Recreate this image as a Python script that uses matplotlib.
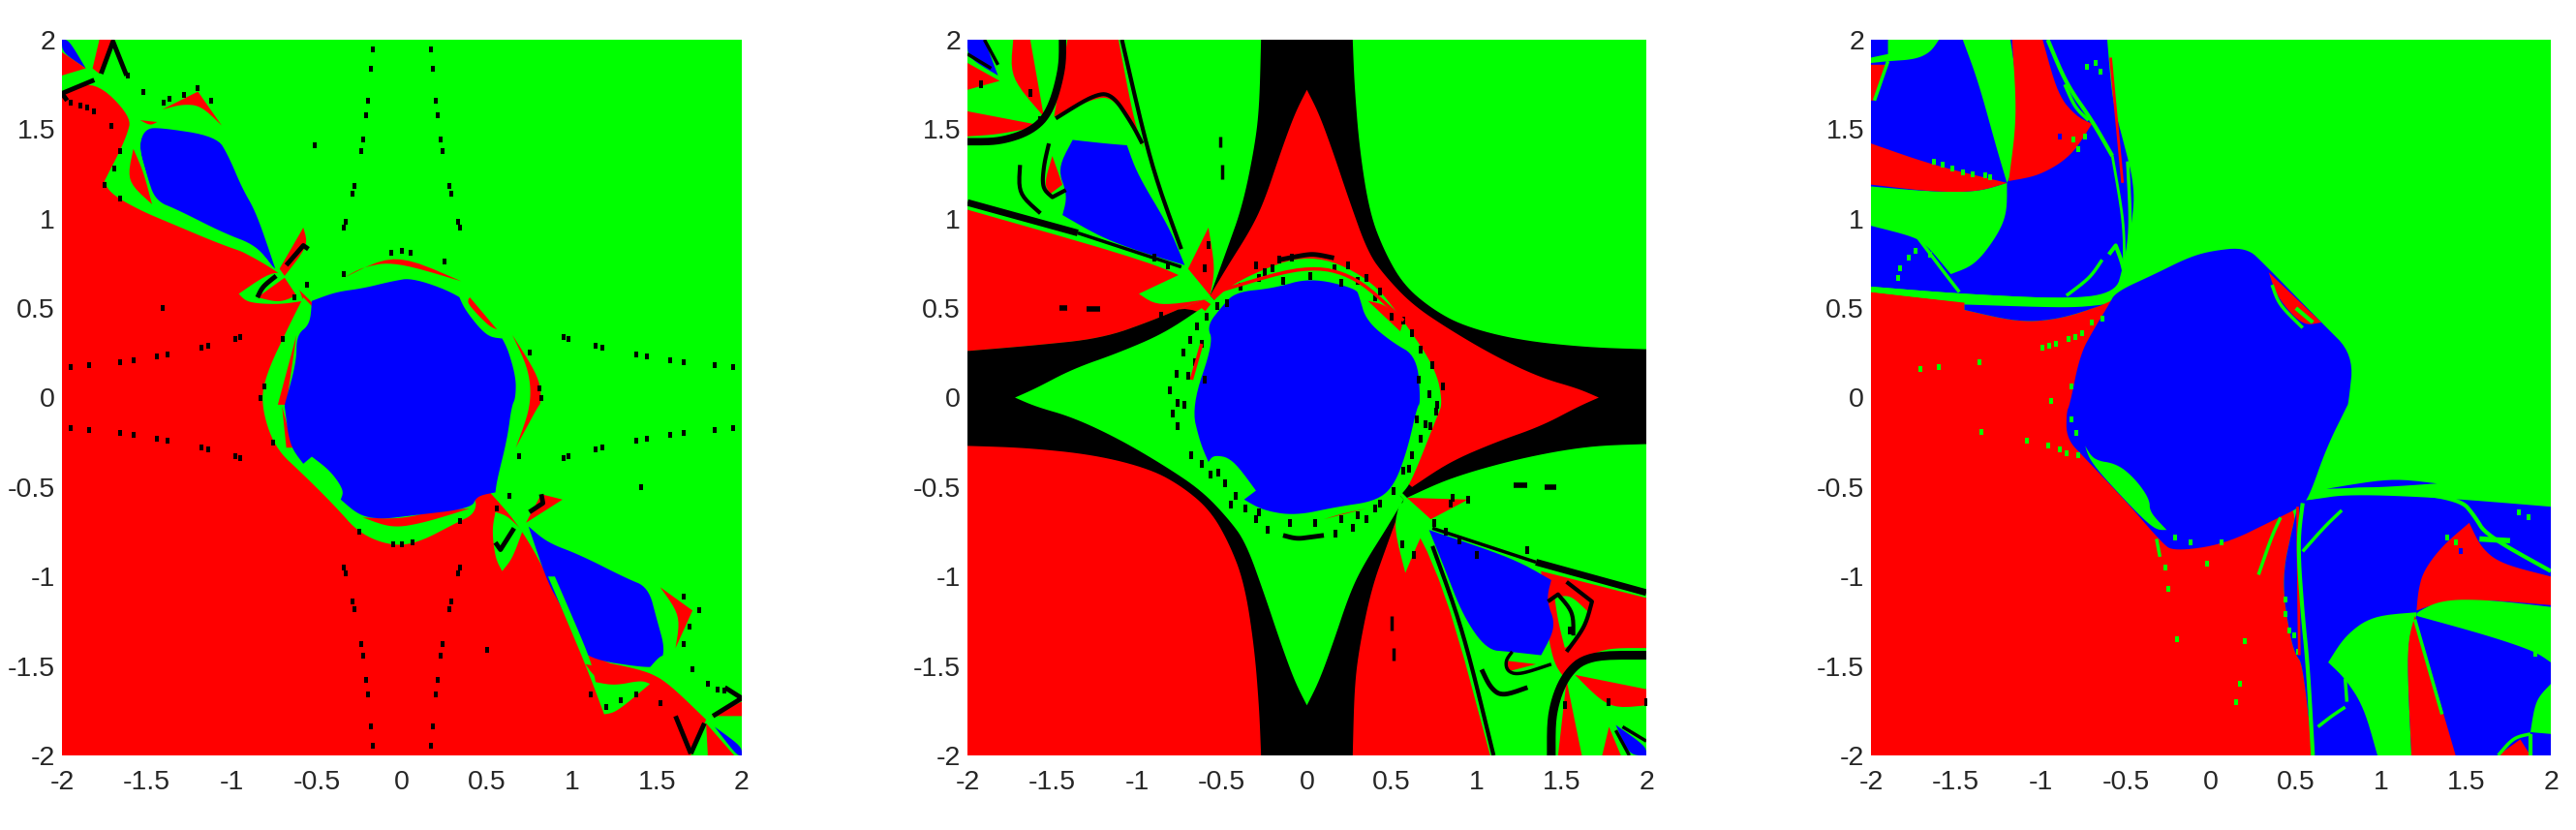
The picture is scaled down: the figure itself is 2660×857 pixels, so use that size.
import math
import matplotlib
matplotlib.use("Agg")
import matplotlib.pyplot as plt

R, G, B, K = "#ff0000", "#00ff00", "#0000ff", "#000000"
tick_values = [-2, -1.5, -1, -0.5, 0, 0.5, 1, 1.5, 2]
tick_labels = ["-2", "-1.5", "-1", "-0.5", "0", "0.5", "1", "1.5", "2"]

# ---------- panel 1: region outlines (x, y) ----------
p1_red_main = [(-2,-2),(1.70,-2),(1.79,-1.80),(1.55,-1.58),(1.41,-1.52),(1.09,-1.46),(.86,-1.0),(.71,-.745),(.56,-.57),(0,0),
               (-.55,.56),(-.75,.72),(-1.05,.87),(-1.45,1.03),(-1.66,1.10),(-1.75,1.21),(-1.69,1.32),(-1.62,1.46),(-1.59,1.57),
               (-1.81,1.775),(-2,1.70)]
p1_green_band = [(-.58,.56),(-.66,.41),(-.80,.13),(-.83,-.04),(-.75,-.28),(-.58,-.43),(-.39,-.61),(-.25,-.76),(-.06,-.83),(.10,-.81),
                 (.32,-.70),(.43,-.65),(.44,-.55),(0,0)]
p1_red_cres_low = [(-.23,-.67),(-.06,-.73),(.13,-.70),(.40,-.62),(.21,-.63),(-.01,-.68)]
p1_red_cres_up = [(-.34,.67),(-.04,.81),(.35,.65),(-.04,.76),(-.23,.73)]
p1_red_left_a = [(-.73,-.04),(-.62,.35),(-.68,-.04)]
p1_red_left_b = [(-.705,-.05),(-.64,-.28),(-.68,-.28)]
p1_red_right = [(.65,.35),(.81,.11),(.82,-.03),(.80,-.05),(.67,-.28),(.76,-.05),(.75,.15)]
p1_disc = [(.07,.67),(.37,.56),(.59,.36),(.67,.13),(.67,0),(.645,-.05),(.62,-.23),(.56,-.46),(.55,-.53),(.44,-.55),(.41,-.62),
           (.05,-.66),(-.12,-.68),(-.25,-.66),(-.36,-.57),(-.34,-.52),(-.42,-.41),(-.53,-.33),(-.58,-.37),(-.66,-.27),(-.69,-.05),
           (-.69,-.04),(-.62,.2),(-.62,.35),(-.54,.41),(-.53,.54),(-.39,.59),(-.23,.61),(-.06,.65)]
p1_ell_green = [(.33,.58),(.37,.49),(.50,.34),(.59,.33),(.58,.40),(.39,.56)]
p1_ell_red = [(.39,.55),(.39,.52),(.51,.40),(.56,.38),(.40,.56)]
p1_green_ear = [(-.745,.72),(-.96,.58),(-.91,.53),(-.72,.52),(-.58,.54),(-.62,.65)]
p1_red_ear = [(-.85,.56),(-.69,.67),(-.62,.57),(-.72,.53)]
p1_red_spike = [(-.72,.72),(-.58,.95),(-.55,.85),(-.69,.68)]
p1_blue_up = [(-.745,.72),(-.855,1.03),(-.94,1.17),(-1.02,1.35),(-1.09,1.46),(-1.43,1.51),(-1.51,1.50),(-1.55,1.41),(-1.50,1.24),
              (-1.45,1.06),(-1.32,1.01),(-1.05,.88),(-.855,.81)]
p1_green_up = [(-1.75,1.23),(-1.73,1.15),(-1.55,1.05),(-1.35,.97),(-1.05,.85),(-.855,.79),(-.75,.72),(-.855,.85),(-1.05,.92),
               (-1.32,1.05),(-1.45,1.10),(-1.50,1.24),(-1.55,1.41),(-1.51,1.50),(-1.58,1.57),(-1.59,1.46)]
p1_red_tear_up = [(-1.58,1.39),(-1.62,1.21),(-1.47,1.08),(-1.52,1.26)]
p1_red_wedge_up = [(-1.41,1.61),(-1.20,1.71),(-1.06,1.52),(-1.18,1.63),(-1.29,1.64)]
p1_red_small_up = [(-1.54,1.55),(-1.44,1.54),(-1.48,1.52)]
p1_blue_tl = [(-2,2),(-1.96,2),(-1.86,1.84),(-2,1.93)]
p1_red_tl = [(-2,1.93),(-1.86,1.84),(-2,1.80)]
p1_red_tl2 = [(-1.82,1.84),(-1.78,2),(-1.69,2),(-1.78,1.81)]
p1_green_tear = [(.55,-.64),(.53,-.74),(.55,-.90),(.59,-.97),(.65,-.90),(.71,-.745),(.62,-.66)]
p1_red_wedge_r = [(.73,-.70),(.945,-.57),(.82,-.54)]
p1_blue_low = [(.745,-.72),(.855,-1.03),(.94,-1.17),(1.02,-1.35),(1.09,-1.46),(1.43,-1.51),(1.51,-1.50),(1.55,-1.41),(1.50,-1.24),
               (1.45,-1.06),(1.32,-1.01),(1.05,-.88),(.855,-.81)]
p1_green_low = [(.86,-1.0),(1.08,-1.49),(1.19,-1.77),(1.26,-1.76),(1.46,-1.60),(1.41,-1.58),(1.25,-1.61),(1.14,-1.59),(1.11,-1.46),(.90,-1.0)]
p1_red_low_in = [(1.08,-1.49),(1.41,-1.55),(1.25,-1.59),(1.14,-1.57)]
p1_green_low2 = [(1.52,-1.44),(1.44,-1.53),(1.54,-1.58),(1.60,-1.56),(1.57,-1.44)]
p1_red_cres_r = [(1.52,-1.06),(1.71,-1.19),(1.61,-1.40),(1.64,-1.22)]
p1_red_br = [(1.79,-1.82),(1.80,-2),(1.955,-2)]
p1_blue_br = [(1.97,-2),(2,-2),(2,-1.95),(1.84,-1.84)]
p1_red_br2 = [(2,-1.78),(2,-1.70),(1.82,-1.78)]
p1_layers = [(R,p1_red_main),(G,p1_green_band),(R,p1_red_cres_low),(R,p1_red_cres_up),(R,p1_red_left_a),(R,p1_red_left_b),
             (R,p1_red_right),(B,p1_disc),(G,p1_ell_green),(R,p1_ell_red),(G,p1_green_ear),(R,p1_red_ear),(R,p1_red_spike),
             (B,p1_blue_up),(G,p1_green_up),(R,p1_red_tear_up),(R,p1_red_wedge_up),(R,p1_red_small_up),(B,p1_blue_tl),(R,p1_red_tl),
             (R,p1_red_tl2),(G,p1_green_tear),(R,p1_red_wedge_r),(B,p1_blue_low),(G,p1_green_low),(R,p1_red_low_in),
             (G,p1_green_low2),(R,p1_red_cres_r),(R,p1_red_br),(B,p1_blue_br),(R,p1_red_br2)]
p1_black_lines = [[(-1.77,1.81),(-1.70,1.99),(-1.62,1.80)],[(-2,1.70),(-1.97,1.66)],[(-2,1.70),(-1.81,1.775)],
                  [(1.70,-1.99),(1.61,-1.78)],[(1.70,-1.99),(1.78,-1.82)],[(1.83,-1.78),(2,-1.68),(1.90,-1.62)],
                  [(-.85,.56),(-.82,.62),(-.74,.68)],[(-.68,.74),(-.58,.85),(-.55,.83)],
                  [(.55,-.81),(.58,-.85),(.66,-.73)],[(.75,-.64),(.83,-.59),(.82,-.54)]]
# one quadrant of the four sets of dotted rays, repeated with each sign below
p1_ray_near = [.173,.18,.20,.21,.23,.24,.28,.29,.33,.34]
p1_ray_far = [1.946,1.84,1.66,1.58,1.44,1.38,1.18,1.14,.98,.95]
p1_dots_x = [-.51,1.41,-1.41,.50,-.06,0,.05,-.34,.25,-.56,-.05,0,.06,.34,-.25,.63,.56,-.63,-.70,.75,.81,.82,-.81,-.83,-.76,.69,
             -1.61,-1.52,-1.40,-1.37,-1.28,-1.12,-1.20,-1.71,-1.66,-1.69,-1.75,-1.66,1.66,1.75,1.69,1.66,1.71,1.52,1.38,1.29,1.20,1.11,
             -1.95,-1.89,-1.85,-1.81,1.80,1.86,1.90]
p1_dots_y = [1.41,-.50,.50,-1.41,.81,.82,.81,.69,.76,.63,-.82,-.82,-.81,-.69,-.75,-.55,-.62,.56,.33,.25,.05,0,.06,0,-.25,-.33,
             1.80,1.71,1.65,1.67,1.69,1.66,1.73,1.52,1.38,1.28,1.19,1.11,-1.11,-1.19,-1.28,-1.38,-1.52,-1.71,-1.66,-1.69,-1.73,-1.66,
             1.65,1.63,1.62,1.60,-1.60,-1.63,-1.64]

# ---------- panel 2 ----------
p2_black_a = [(-.27,2),(.27,2),(.28,1.75),(.31,1.39),(.37,1.03),(.46,.81),(.57,.63),(.73,.50),(.92,.40),(1.25,.32),(1.66,.28),(2,.27),
              (2,-.26),(1.66,-.27),(1.25,-.34),(.84,-.45),(.59,-.56),(0,0),(-.57,.57),(-.47,.83),(-.38,1.07),(-.31,1.39),(-.28,1.62)]
p2_red_astroid = [(0,1.72),(.07,1.59),(.155,1.37),(.25,1.10),(.36,.81),(.46,.68),(.62,.52),(.84,.38),(1.11,.23),(1.38,.11),(1.60,.05),
                  (1.72,0),(1.60,-.05),(1.38,-.16),(1.11,-.25),(.84,-.36),(.62,-.50),(0,0),(-.57,.57),(-.47,.73),(-.33,.94),(-.25,1.10),
                  (-.155,1.37),(-.07,1.59)]
p2_red_low = [(-2,.26),(-2,-2),(1.08,-2),(.72,-.73),(0,0),(-.58,.55),(-.64,.54),(-.91,.43),(-1.21,.33),(-1.62,.29)]
p2_black_b = [(.27,-2),(-.27,-2),(-.28,-1.75),(-.31,-1.39),(-.37,-1.03),(-.46,-.81),(-.57,-.63),(-.73,-.50),(-.92,-.40),(-1.25,-.32),
              (-1.66,-.28),(-2,-.27),(-2,.26),(-1.62,.29),(-1.21,.33),(-.91,.43),(-.64,.54),(0,0),(.57,-.57),(.47,-.83),(.38,-1.07),(.31,-1.39),(.28,-1.62)]
p2_green_astroid = [(0,-1.72),(-.07,-1.59),(-.155,-1.37),(-.25,-1.10),(-.36,-.81),(-.46,-.68),(-.62,-.52),(-.84,-.38),(-1.11,-.23),
                    (-1.38,-.11),(-1.60,-.05),(-1.72,0),(-1.60,.05),(-1.38,.16),(-1.11,.25),(-.84,.36),(-.62,.50),(0,0),(.57,-.57),(.47,-.73),
                    (.33,-.94),(.25,-1.10),(.155,-1.37),(.07,-1.59)]
p2_red_sector = [(-2,1.05),(-.74,.71),(-.58,.55),(-.64,.54),(-.91,.43),(-1.21,.33),(-1.62,.29),(-2,.26)]
p2_green_ear = [(-.99,.58),(-.88,.51),(-.58,.55),(-.70,.71)]
p2_red_spike = [(-.70,.72),(-.58,.95),(-.54,.72),(-.57,.57)]
p2_red_top = [(-1.41,2),(-1.11,2),(-1.02,1.55),(-.96,1.39),(-1.03,1.53),(-1.15,1.68),(-1.26,1.67),(-1.49,1.57),(-1.44,1.84)]
p2_blue_tl = [(-2,2),(-1.90,2),(-1.82,1.80),(-2,1.90)]
p2_red_tl = [(-2,1.87),(-1.81,1.77),(-2,1.72)]
p2_red_tl2 = [(-1.75,1.79),(-1.73,2),(-1.63,2),(-1.55,1.57)]
p2_red_tl3 = [(-2,1.60),(-1.56,1.52),(-1.82,1.47),(-2,1.46)]
p2_blue_up = [(-.72,.74),(-.81,.95),(-1.0,1.25),(-1.06,1.41),(-1.19,1.42),(-1.38,1.44),(-1.47,1.28),(-1.41,1.13),(-1.44,1.02),
              (-1.22,.90),(-1.0,.82)]
p2_red_tear_up = [(-1.50,1.35),(-1.55,1.19),(-1.51,1.14),(-1.44,1.19)]
p2_ring = [(-.36,.68),(.02,.81),(.37,.67),(.57,.43),(.76,.16),(.80,-.03),(.77,-.10),(.62,-.46),(.57,-.53),(.46,-.63),(.18,-.77),(-.26,-.72),
           (-.47,-.55),(-.64,-.36),(-.77,-.16),(-.81,-.05),(-.72,.29),(-.57,.54)]
p2_disc = [(.02,.67),(.29,.61),(.31,.56),(.35,.43),(.50,.31),(.65,.23),(.67,-.03),(.65,-.05),(.59,-.30),(.51,-.50),(.40,-.58),(.18,-.61),
           (-.07,-.66),(-.26,-.63),(-.37,-.57),(-.30,-.52),(-.44,-.34),(-.55,-.32),(-.58,-.36),(-.63,-.25),(-.68,-.05),(-.55,.31),(-.59,.40),
           (-.50,.51),(-.42,.59),(-.20,.61)]
p2_red_ellipse = [(.36,.54),(.55,.37),(.57,.43),(.46,.52)]
p2_green_tear_fill = [(.55,-.58),(.51,-.72),(.58,-.98),(.66,-.80),(.70,-.73)]
p2_red_wedge_r = [(.59,-.56),(.95,-.57),(.73,-.68)]
p2_red_q4 = [(1.38,-.97),(2,-1.12),(2,-1.40),(1.75,-1.40),(1.60,-1.48),(1.52,-1.57),(1.45,-1.48),(1.40,-1.2)]
p2_green_pocket = [(1.46,-1.12),(1.55,-1.10),(1.66,-1.20),(1.60,-1.35),(1.52,-1.40),(1.48,-1.25)]
p2_blue_low = [(.72,-.74),(1.22,-.90),(1.44,-1.02),(1.41,-1.13),(1.47,-1.28),(1.38,-1.44),(1.19,-1.42),(1.06,-1.41),(.92,-1.22),(.81,-.95)]
p2_red_loop = [(1.17,-1.47),(1.35,-1.49),(1.19,-1.53)]
p2_red_br1 = [(1.58,-1.55),(2,-1.63),(2,-1.72),(1.78,-1.74)]
p2_red_br2 = [(1.48,-2),(1.53,-1.58),(1.62,-2)]
p2_red_br3 = [(1.74,-2),(1.78,-1.84),(1.85,-2)]
p2_blue_br = [(1.90,-2),(1.82,-1.83),(2,-1.95),(2,-2)]
p2_red_crescent_low = [(.10,-.68),(.35,-.62),(.20,-.65)]
p2_layers = [(R,p2_red_low),(R,p2_red_sector),(K,p2_black_a),(R,p2_red_astroid),(K,p2_black_b),(G,p2_green_astroid),(G,p2_green_ear),
             (R,p2_red_spike),(R,p2_red_top),(B,p2_blue_tl),(R,p2_red_tl),(R,p2_red_tl2),(R,p2_red_tl3),(B,p2_blue_up),(R,p2_red_tear_up),
             (G,p2_ring),(B,p2_disc),(R,p2_red_ellipse),(G,p2_green_tear_fill),(R,p2_red_wedge_r),(R,p2_red_q4),(G,p2_green_pocket),
             (B,p2_blue_low),(R,p2_red_loop),(R,p2_red_br1),(R,p2_red_br2),(R,p2_red_br3),(B,p2_blue_br),(R,p2_red_crescent_low)]
p2_thin_red = [[(-.50,.60),(-.01,.74),(.29,.68),(.57,.43)],[(-.68,.10),(-.62,.30)]]
p2_black_lines = [([(-1.44,2),(-1.44,1.84),(-1.51,1.60),(-1.62,1.49),(-1.81,1.43),(-2,1.43)],5.5),
                  ([(-2,1.09),(-1.35,.92)],5),([(-1.35,.92),(-.74,.73)],2.5),
                  ([(-1.09,2),(-.92,1.30),(-.74,.83)],3),
                  ([(2,-1.09),(1.35,-.92)],5),([(1.35,-.92),(.74,-.73)],2.5),
                  ([(1.10,-2),(.92,-1.30),(.74,-.83)],3),
                  ([(1.44,-2),(1.44,-1.76),(1.52,-1.55),(1.66,-1.44),(2,-1.44)],6.5),
                  ([(-1.48,1.56),(-1.26,1.69),(-1.15,1.70),(-1.03,1.53),(-.97,1.42)],3),
                  ([(-1.69,1.30),(-1.70,1.14),(-1.57,1.03)],3),
                  ([(-1.52,1.42),(-1.55,1.30),(-1.56,1.17),(-1.50,1.12),(-1.42,1.16)],3),
                  ([(1.03,-1.52),(1.08,-1.62),(1.15,-1.67),(1.30,-1.62)],3.5),
                  ([(1.21,-1.42),(1.17,-1.47),(1.18,-1.53),(1.25,-1.55),(1.44,-1.49)],2.5),
                  ([(1.53,-1.03),(1.68,-1.14),(1.64,-1.28),(1.53,-1.42)],3),
                  ([(1.42,-1.14),(1.48,-1.10),(1.57,-1.20),(1.57,-1.33)],3),
                  ([(-.14,-.77),(-.06,-.79),(.02,-.78),(.10,-.77)],3.5),
                  ([(-.16,.77),(0,.80),(.06,.80),(.16,.78)],3.5),
                  ([(1.86,-1.84),(2,-1.92)],2.5),([(1.82,-1.86),(1.90,-2)],2.5),
                  ([(-1.82,1.86),(-1.90,2)],2.5),([(-1.86,1.84),(-2,1.92)],2.5),
                  ([(-.51,1.46),(-.51,1.40)],2.5),([(-.50,1.30),(-.50,1.22)],2.5),
                  ([(-1.46,.50),(-1.41,.50)],4),([(-1.30,.495),(-1.22,.495)],4),
                  ([(.50,-1.22),(.50,-1.30)],2.5),([(.51,-1.40),(.51,-1.47)],2.5),
                  ([(1.22,-.49),(1.30,-.49)],4),([(1.40,-.50),(1.47,-.50)],4)]
p2_dots_x = [-.16,-.09,.24,.35,.43,.57,.62,.67,.74,.80,.77,-.77,-.73,-.69,-.65,-.59,-.53,-.47,-.81,-.76,-.72,-.39,-.28,-.14,.02,.16,
             -.79,-.76,-.68,-.62,-.57,-.42,-.36,-.28,-.23,.17,.27,.35,.43,.51,.57,.62,.67,.73,.76,
             -.90,-.82,-.86,-.58,-.60,-1.57,-1.63,-1.92,.86,.63,.56,.85,.95,1.30,1.55,.75,.82,.90,1.0,1.78,2.0,1.52,
             -.70,-.66,-.62,-.60,-.30,-.25,-.20,.20,.30,.40,.50,.66,.72,.70,.65,.60,-.48,-.52,-.45,-.30,-.10,.05,.20,.30,.40]
p2_dots_y = [.77,.78,.74,.67,.59,.43,.36,.27,.18,.06,-.04,.13,.25,.32,.40,.45,.51,.53,.04,-.03,-.04,.62,.67,.65,.68,.72,
             -.09,-.16,-.32,-.37,-.43,-.55,-.62,-.64,-.74,-.76,-.73,-.68,-.59,-.52,-.41,-.32,-.23,-.16,-.08,
             .78,.74,.46,.85,.72,1.55,1.70,1.75,-.56,-.88,-.82,-.59,-.57,-.85,-1.30,-.70,-.75,-.80,-.88,-1.70,-1.70,-1.72,
             .12,.20,.30,.10,.74,.70,.72,.64,.65,.56,.45,.10,.02,-.15,-.12,-.40,-.48,-.42,-.60,-.68,-.70,-.70,-.68,-.66,-.62]

# ---------- panel 3 ----------
p3_red_main = [(-2,.59),(-1.45,.53),(-1.45,.49),(-1.13,.42),(-.88,.44),(-.63,.52),(-.57,.55),(0,0),(.51,-.61),(.47,-.77),(.43,-.95),(.43,-1.13),
               (.47,-1.35),(.50,-1.44),(.54,-1.49),(.60,-2),(-2,-2)]
p3_blue_low = [(.5,-.58),(.60,-.57),(.81,-.54),(1.36,-.56),(2,-.61),(2,-2),(.60,-2),(.54,-1.49),(.50,-1.44),(.47,-1.35),(.43,-1.13),(.43,-.95),(.47,-.77),(.51,-.61)]
p3_blue_lens = [(.68,-.51),(1.06,-.45),(1.33,-.48),(1.03,-.50)]
p3_red_lobe = [(1.52,-.70),(1.59,-.84),(1.71,-.93),(2,-1.0),(2,-1.16),(1.63,-1.13),(1.36,-1.14),(1.21,-1.19),(1.22,-1.08),(1.25,-.97),(1.36,-.83)]
p3_green_wedge = [(1.21,-1.2),(1.36,-1.13),(1.63,-1.13),(2,-1.17),(2,-1.48),(1.91,-1.42),(1.63,-1.33),(1.21,-1.22)]
p3_green_arch = [(1.21,-1.2),(.95,-1.22),(.79,-1.33),(.69,-1.48),(.79,-1.57),(.90,-1.73),(.98,-2),(1.18,-2),(1.15,-1.39),(1.21,-1.22)]
p3_red_wedge = [(1.20,-1.22),(1.15,-1.39),(1.18,-2),(1.44,-2)]
p3_green_br = [(2,-1.60),(1.91,-1.69),(1.88,-1.87),(2,-1.88)]
p3_red_br = [(1.69,-2),(1.82,-1.91),(1.88,-2)]
p3_blue_up = [(-2,2),(-.61,2),(-.58,1.66),(-.52,1.45),(-.45,1.19),(-.46,.99),(-.52,.72),(-.56,.59),(-.82,.55),(-1.48,.58),(-2,.62)]
p3_green_strip = [(-2,.62),(-1.48,.58),(-.82,.55),(-.57,.58),(-.57,.55),(-.82,.50),(-1.45,.53),(-2,.59)]
p3_blue_pocket = [(-1.45,.52),(-.82,.50),(-.63,.52),(-.88,.44),(-1.13,.42),(-1.45,.49)]
p3_green_big = [(-2,1.18),(-1.64,1.15),(-1.37,1.15),(-1.20,1.20),(-1.20,1.03),(-1.26,.90),(-1.39,.74),(-1.53,.69),(-1.67,.85),(-1.75,.90),(-2,.96)]
p3_red_left = [(-2,1.42),(-1.64,1.30),(-1.20,1.20),(-1.37,1.15),(-1.64,1.15),(-2,1.19)]
p3_green_upper = [(-1.46,2),(-1.18,2),(-1.14,1.75),(-1.14,1.32),(-1.20,1.20),(-1.26,1.39),(-1.37,1.77)]
p3_red_upper = [(-1.17,2),(-.99,2),(-.90,1.69),(-.79,1.57),(-.70,1.53),(-.82,1.35),(-1.01,1.24),(-1.19,1.21),(-1.14,1.57)]
p3_green_tl = [(-1.90,2),(-1.60,2),(-1.65,1.93),(-1.74,1.89),(-1.90,1.88),(-2,1.87),(-2,1.90),(-1.90,1.92)]
p3_red_tl = [(-2,1.86),(-1.90,1.86),(-1.98,1.66),(-2,1.66)]
p3_disc = [(-.56,.59),(-.33,.69),(-.14,.78),(0,.82),(.21,.84),(.32,.74),(.65,.42),(.84,.24),(.81,-.03),(.80,-.05),(.68,-.28),(.58,-.55),(.53,-.61),
           (.38,-.68),(.08,-.82),(-.22,-.86),(-.29,-.81),(-.49,-.59),(-.74,-.34),(-.85,-.23),(-.85,-.08),(-.83,-.04),(-.77,.24),(-.69,.38),(-.60,.52)]
p3_red_ell = [(.34,.70),(.65,.42),(.54,.40),(.39,.56)]
p3_green_chunk = [(-.74,-.27),(-.69,-.35),(-.55,-.37),(-.44,-.46),(-.36,-.57),(-.36,-.64),(-.26,-.74),(-.33,-.74),(-.49,-.59),(-.71,-.36)]
p3_layers = [(R,p3_red_main),(B,p3_blue_low),(B,p3_blue_lens),(R,p3_red_lobe),(G,p3_green_wedge),(G,p3_green_arch),(R,p3_red_wedge),(G,p3_green_br),
             (R,p3_red_br),(B,p3_blue_up),(G,p3_green_strip),(B,p3_blue_pocket),(G,p3_green_big),(R,p3_red_left),(G,p3_green_upper),(R,p3_red_upper),
             (G,p3_green_tl),(R,p3_red_tl),(B,p3_disc),(R,p3_red_ell),(G,p3_green_chunk)]
p3_green_lines = [([(.58,-.56),(.81,-.51),(1.11,-.52),(1.47,-.57),(1.55,-.66),(1.62,-.77),(2,-.97)],3),
                  ([(.54,-.59),(.51,-.81),(.54,-1.22),(.57,-1.49),(.60,-2)],3),
                  ([(.54,-.86),(.67,-.72),(.77,-.63)],2.5),
                  ([(.63,-1.84),(.71,-1.78),(.79,-1.73)],2.5),
                  ([(.79,-1.57),(.80,-1.70)],2.5),
                  ([(1.58,-.79),(1.76,-.80)],4),
                  ([(1.69,-2),(1.78,-1.90),(1.88,-1.88)],2.5),([(1.88,-1.88),(1.88,-2)],3),
                  ([(1.20,-1.24),(1.36,-1.77)],2.5),
                  ([(-.32,-.79),(-.30,-.89)],2.5),([(.28,-.99),(.36,-.77),(.41,-.67)],2.5),
                  ([(.36,.63),(.40,.52),(.54,.39)],2.5),([(.50,.50),(.60,.42)],3),
                  ([(-.96,2),(-.85,1.75),(-.70,1.55),(-.58,1.35)],3),
                  ([(-.49,1.32),(-.47,.95),(-.50,.75)],2.5),([(-.58,1.35),(-.51,.97),(-.51,.72)],2),
                  ([(-.86,1.75),(-.80,1.62),(-.72,1.55)],2.5),
                  ([(-1.72,.89),(-1.57,.70),(-1.48,.59)],2.5),([(-1.90,1.88),(-1.98,1.66)],2.5),
                  ([(-.85,.57),(-.71,.67),(-.64,.77)],2.5),([(-.60,.80),(-.56,.85),(-.52,.75),(-.50,.65)],3)]
p3_red_lines = [[(-.59,1.90),(-.52,1.2)],[(.51,-.61),(.52,-1.44)]]
p3_green_dots_x = [-1.35,-1.08,-.96,-.89,-.85,-.78,-.79,-.82,-.27,-.02,-.25,-.20,.20,.17,.15,-.21,-.12,.06,.44,.44,.46,.49,.51,
                   -1.71,-1.60,-1.36,-.99,-.95,-.91,-.84,-.80,-.76,-.70,-.64,-.94,-.82,
                   -1.63,-1.58,-1.52,-1.46,-1.40,-1.33,-1.30,-1.84,-1.83,-1.78,-1.74,-1.65,-.81,-.74,-.78,
                   1.87,1.81,1.39,1.44,-.73,-.68,-.65,1.91]
p3_green_dots_y = [-.19,-.24,-.27,-.29,-.31,-.32,-.20,-.12,-.95,-.93,-1.07,-1.35,-1.36,-1.60,-1.70,-.78,-.81,-.81,-1.13,-1.21,-1.30,-1.33,-1.42,
                   .16,.17,.20,.28,.29,.30,.33,.34,.36,.42,.44,-.02,.06,
                   1.32,1.30,1.28,1.26,1.25,1.24,1.23,.67,.72,.78,.82,.80,1.44,1.46,1.39,
                   -.67,-.64,-.78,-.81,1.85,1.87,1.82,-1.43]
p3_blue_dots_x = [-.89, 1.47]
p3_blue_dots_y = [1.46, -.86]

CELL_MARK = [(-.6,-1),(.6,-1),(.6,1),(-.6,1),(-.6,-1)]


def turn_deg(a, b, c):
    u = (b[0]-a[0], b[1]-a[1])
    v = (c[0]-b[0], c[1]-b[1])
    nu, nv = math.hypot(*u), math.hypot(*v)
    if nu == 0 or nv == 0:
        return 180.0
    cosv = max(-1.0, min(1.0, (u[0]*v[0]+u[1]*v[1])/(nu*nv)))
    return math.degrees(math.acos(cosv))


def rounded(pts, closed, rounds=3, sharp=65.0):
    """Round the drawn outline (Chaikin corner cutting) while keeping its sharp tips."""
    pts = list(pts)
    for _ in range(rounds):
        n = len(pts)
        if closed:
            keep = [turn_deg(pts[i-1], pts[i], pts[(i+1) % n]) > sharp for i in range(n)]
            edges = [(i, (i+1) % n) for i in range(n)]
        else:
            keep = [True] + [turn_deg(pts[i-1], pts[i], pts[i+1]) > sharp for i in range(1, n-1)] + [True]
            edges = [(i, i+1) for i in range(n-1)]
        out = []
        for i, j in edges:
            a, b = pts[i], pts[j]
            out.append(a if keep[i] else (.75*a[0]+.25*b[0], .75*a[1]+.25*b[1]))
            out.append(b if keep[j] else (.25*a[0]+.75*b[0], .25*a[1]+.75*b[1]))
        pts = out
    return pts


def base_axes(fig, left_px, right_px):
    ax = fig.add_axes([left_px / 2660, (857 - 780) / 857, (right_px - left_px) / 2660, 739 / 857])
    ax.set_xlim(-2, 2)
    ax.set_ylim(-2, 2)
    ax.set_facecolor(G)
    for s in ax.spines.values():
        s.set_visible(False)
    ax.set_xticks(tick_values, tick_labels)
    ax.set_yticks(tick_values, tick_labels)
    ax.tick_params(length=0, labelsize=20.5, labelcolor="#262626")
    ax.tick_params(axis="x", pad=11)
    ax.tick_params(axis="y", pad=5)
    return ax


def fill_layers(ax, layers):
    for color, poly in layers:
        pts = rounded(poly, True)
        ax.fill([p[0] for p in pts], [p[1] for p in pts], color=color, lw=0)


def stroke(ax, line, color, lw):
    pts = rounded(line, False)
    ax.plot([p[0] for p in pts], [p[1] for p in pts], color=color, lw=lw, solid_capstyle="butt", solid_joinstyle="round")


plt.rcParams["font.family"] = ["Liberation Sans Narrow", "Liberation Sans", "DejaVu Sans"]
fig = plt.figure(figsize=(26.6, 8.57), dpi=100)
ax1 = base_axes(fig, 64, 766)
ax2 = base_axes(fig, 999, 1700)
ax3 = base_axes(fig, 1932, 2634)

fill_layers(ax1, p1_layers)
for line in p1_black_lines:
    stroke(ax1, line, K, 3.5)
for sx in (-1, 1):
    for sy in (-1, 1):
        ax1.scatter([sx * v for v in p1_ray_near], [sy * v for v in p1_ray_far], marker=CELL_MARK, s=22, c=K, lw=0)
        ax1.scatter([sx * v for v in p1_ray_far], [sy * v for v in p1_ray_near], marker=CELL_MARK, s=22, c=K, lw=0)
ax1.scatter(p1_dots_x, p1_dots_y, marker=CELL_MARK, s=22, c=K, lw=0)

fill_layers(ax2, p2_layers)
for line in p2_thin_red:
    stroke(ax2, line, R, 2.5)
for line, lw in p2_black_lines:
    stroke(ax2, line, K, lw)
ax2.scatter(p2_dots_x, p2_dots_y, marker=CELL_MARK, s=30, c=K, lw=0)

fill_layers(ax3, p3_layers)
for line in p3_red_lines:
    stroke(ax3, line, R, 2)
for line, lw in p3_green_lines:
    stroke(ax3, line, G, lw)
ax3.scatter(p3_green_dots_x, p3_green_dots_y, marker=CELL_MARK, s=25, c=G, lw=0)
ax3.scatter(p3_blue_dots_x, p3_blue_dots_y, marker=CELL_MARK, s=25, c=B, lw=0)

fig.savefig("out.png", dpi=100, facecolor="white")
